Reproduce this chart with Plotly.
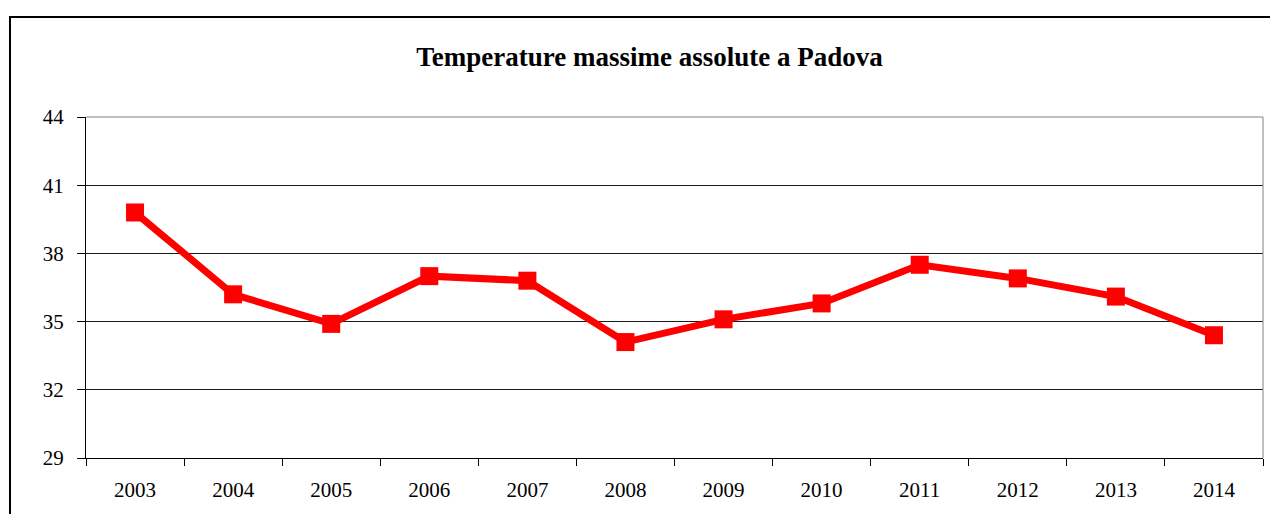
import plotly.graph_objects as go

years = ["2003", "2004", "2005", "2006", "2007", "2008", "2009", "2010", "2011", "2012", "2013", "2014"]
temps = [39.8, 36.2, 34.9, 37.0, 36.8, 34.1, 35.1, 35.8, 37.5, 36.9, 36.1, 34.4]
y_ticks = [29, 32, 35, 38, 41, 44]
title_text = "Temperature massime assolute a Padova"

OFF = 8  # default page body margin
W, H = 1278 - OFF, 514 - OFF
L, T = 86 - OFF, 117 - OFF
pw, ph = 1177, 348
R = W - L - pw
B = H - T - ph

fig = go.Figure()
fig.add_trace(go.Scatter(
    x=years, y=temps, mode="lines+markers",
    line=dict(color="#FF0000", width=7),
    marker=dict(symbol="square", size=18, color="#FF0000"),
    showlegend=False,
))

font = "Liberation Serif, Times New Roman, serif"

fig.update_layout(
    width=W, height=H,
    margin=dict(l=L, r=R, t=T, b=B, pad=0),
    paper_bgcolor="white", plot_bgcolor="white",
    font=dict(family=font, size=21, color="black"),
    title=dict(text="<b>" + title_text + "</b>", x=(649.5 - OFF) / W, xref="container", xanchor="center",
               y=1 - (57 - OFF) / H, yref="container", yanchor="middle",
               font=dict(family=font, size=27, color="black")),
    xaxis=dict(type="category", range=[-0.5, len(years) - 0.5], tickson="boundaries",
               ticks="outside", ticklen=7, tickcolor="black", tickwidth=1,
               showline=True, linecolor="black", linewidth=1, showgrid=False,
               ticklabelstandoff=13, tickfont=dict(family=font, size=21)),
    yaxis=dict(range=[29, 44], tickvals=y_ticks, ticks="outside", ticklen=8, tickcolor="black",
               showline=True, linecolor="black", linewidth=1, showgrid=True, gridcolor="#1a1a1a",
               gridwidth=1, zeroline=False, ticklabelstandoff=9, tickfont=dict(family=font, size=21)),
    shapes=[
        dict(type="line", xref="paper", yref="paper", x0=0, x1=1, y0=1, y1=1,
             line=dict(color="#808080", width=1)),
        dict(type="line", xref="paper", yref="paper", x0=1, x1=1, y0=0, y1=1,
             line=dict(color="#808080", width=1)),
        dict(type="rect", xref="paper", yref="paper",
             x0=(10 - OFF - L) / pw, x1=1.2, y0=-0.5, y1=(H - B - (15 - OFF)) / ph,
             line=dict(color="black", width=2), fillcolor="rgba(0,0,0,0)", layer="above"),
    ],
)

fig.write_html("out.html")
